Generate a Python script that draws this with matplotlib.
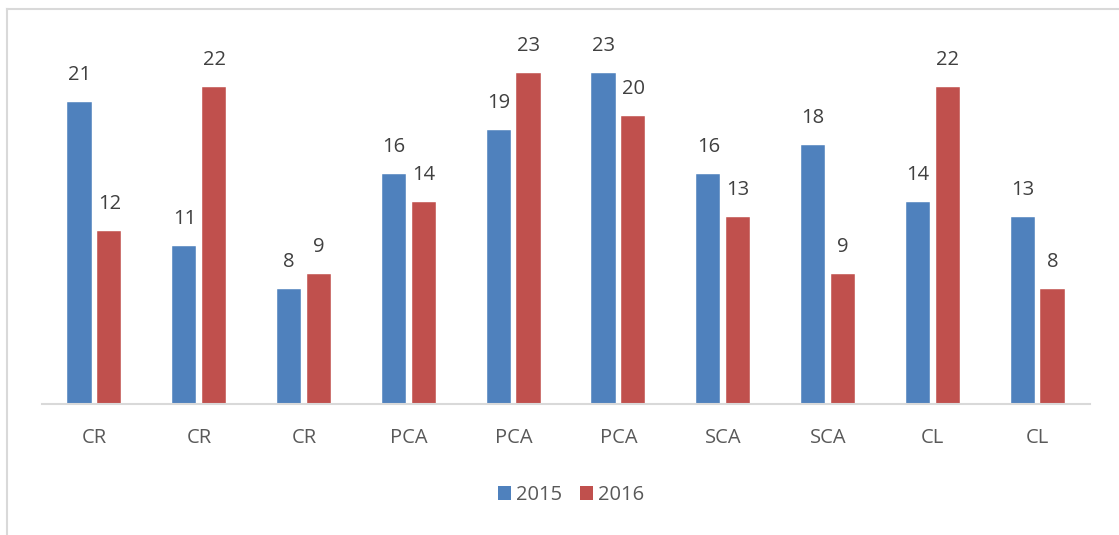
import matplotlib
matplotlib.use("Agg")
import matplotlib.pyplot as plt
from matplotlib.lines import Line2D
from matplotlib.patches import Patch
import numpy as np

categories = ["CR", "CR", "CR", "PCA", "PCA", "PCA", "SCA", "SCA", "CL", "CL"]
series_names = ["2015", "2016"]
values_2015 = [21, 11, 8, 16, 19, 23, 16, 18, 14, 13]
values_2016 = [12, 22, 9, 14, 23, 20, 13, 9, 22, 8]
colors = ["#4F81BD", "#C0504D"]

plt.rcParams['font.family'] = ['Open Sans', 'DejaVu Sans']

W, H = 1119, 535
fig = plt.figure(figsize=(W / 100, H / 100), dpi=100)

x0, x1 = 42, 1090
ybase = 404
ppu = 14.4
ymax = 26
ytop = ybase - ymax * ppu
ax = fig.add_axes([x0 / W, (H - ybase) / H, (x1 - x0) / W, (ybase - ytop) / H])

x = np.arange(len(categories))
bw = 0.23
off = 0.142
for vals, c, o in [(values_2015, colors[0], -off), (values_2016, colors[1], off)]:
    ax.bar(x + o, vals, width=bw, color=c, edgecolor="white", linewidth=0.3)
    for xi, v in zip(x + o, vals):
        ax.annotate(str(v), (xi, v), xytext=(0, 19.5), textcoords="offset points",
                    ha="center", va="center", fontsize=14.5, color="#404040")

ax.set_xlim(-0.5, len(categories) - 0.5)
ax.set_ylim(0, ymax)
ax.set_yticks([])
ax.set_xticks(x)
ax.set_xticklabels(categories, fontsize=14.5, color="#595959")
ax.tick_params(axis="x", length=0, pad=17)
for s in ["top", "right", "left"]:
    ax.spines[s].set_visible(False)
ax.spines["bottom"].set_color("#D9D9D9")
ax.spines["bottom"].set_linewidth(1.5)
ax.patch.set_alpha(0)

fig.add_artist(Line2D([7 / W, 7 / W], [0, 1 - 9 / H], transform=fig.transFigure, color="#D9D9D9", lw=1.5))
fig.add_artist(Line2D([7 / W, 1], [1 - 9 / H, 1 - 9 / H], transform=fig.transFigure, color="#D9D9D9", lw=1.5))

handles = [Patch(facecolor=c, edgecolor="none") for c in colors]
fig.legend(handles, series_names, loc="center", bbox_to_anchor=(571 / W, 1 - 495 / H), ncol=2,
           frameon=False, fontsize=14.5, labelcolor="#595959", handlelength=0.65, handleheight=0.65,
           handletextpad=0.25, columnspacing=0.9)

fig.savefig("out.png", dpi=100)
